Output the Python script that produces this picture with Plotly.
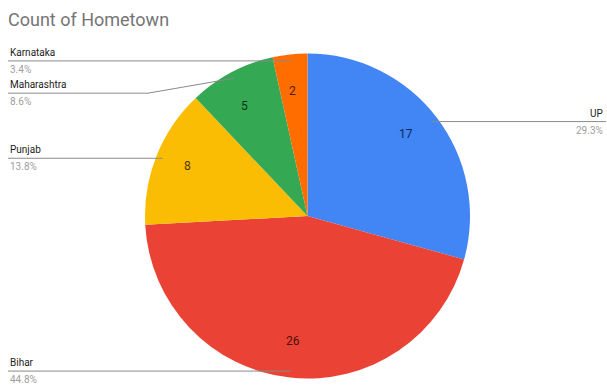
import math
import plotly.graph_objects as go

# Hometown counts
states = ["UP", "Bihar", "Punjab", "Maharashtra", "Karnataka"]
counts = [17, 26, 8, 5, 2]
colors = ["#4285F4", "#EA4335", "#FBBC04", "#34A853", "#FF6D01"]
value_text_colors = ["#0b2a5c", "#4a0f0a", "#4d3a00", "#0c3318", "#4d1f00"]

W, H = 607, 385
CX, CY, R = 307.5, 216.0, 162.5


def px(x):
    return x / W


def py(y):
    return 1 - y / H


total = sum(counts)
pcts = [c / total * 100 for c in counts]

# mid-angle of each slice, clockwise from 12 o'clock
mids = []
acc = 0.0
for c in counts:
    mids.append((acc + c / 2) / total * 2 * math.pi)
    acc += c


def point(angle, r):
    return CX + r * math.sin(angle), CY - r * math.cos(angle)


fig = go.Figure(
    go.Pie(
        labels=states,
        values=counts,
        sort=False,
        direction="clockwise",
        rotation=0,
        marker=dict(colors=colors, line=dict(width=0)),
        textinfo="none",
        hoverinfo="label+value+percent",
        domain=dict(x=[px(CX - R), px(CX + R)], y=[py(CY + R), py(CY - R)]),
        showlegend=False,
    )
)

annotations = []
shapes = []

# values inside the slices
for name, c, a, tc in zip(states, counts, mids, value_text_colors):
    x, y = point(a, R * 0.83)
    annotations.append(dict(
        x=px(x), y=py(y), xref="paper", yref="paper", text=str(c),
        showarrow=False, font=dict(family="Roboto, Arial", size=12, color=tc),
    ))

# leader lines and outside labels (label above line, percentage below)
for name, p, a in zip(states, pcts, mids):
    ax, ay = point(a, R * 0.96)
    right = math.sin(a) > 0
    if name == "Maharashtra":
        line_y = ay + 15
        elbow_x = 148
    else:
        line_y = ay
        elbow_x = None
    if right:
        x_end = W - 1
        path = [(ax, ay), (x_end, line_y)]
        tx, anchor = W - 2, "right"
    else:
        x_end = 8
        if elbow_x is not None:
            path = [(ax, ay), (elbow_x, line_y), (x_end, line_y)]
        else:
            path = [(ax, ay), (x_end, line_y)]
        tx, anchor = 8, "left"
    for (x0, y0), (x1, y1) in zip(path[:-1], path[1:]):
        shapes.append(dict(
            type="line", xref="paper", yref="paper",
            x0=px(x0), y0=py(y0), x1=px(x1), y1=py(y1),
            line=dict(color="#8a8a8a", width=1),
        ))
    annotations.append(dict(
        x=px(tx), y=py(line_y - 1), xref="paper", yref="paper",
        xanchor=anchor, yanchor="bottom", text=name, showarrow=False,
        font=dict(family="Roboto, Arial", size=10, color="#222222"),
    ))
    annotations.append(dict(
        x=px(tx), y=py(line_y + 1), xref="paper", yref="paper",
        xanchor=anchor, yanchor="top", text=f"{p:.1f}%", showarrow=False,
        font=dict(family="Roboto, Arial", size=10, color="#9e9e9e"),
    ))

fig.update_layout(
    width=W, height=H,
    margin=dict(l=0, r=0, t=0, b=0),
    paper_bgcolor="white",
    plot_bgcolor="white",
    title=dict(
        text="Count of Hometown", x=px(8), xanchor="left",
        y=py(20), yanchor="middle",
        font=dict(family="Roboto, Arial", size=18, color="#757575"),
    ),
    annotations=annotations,
    shapes=shapes,
)

fig.write_html("out.html")
